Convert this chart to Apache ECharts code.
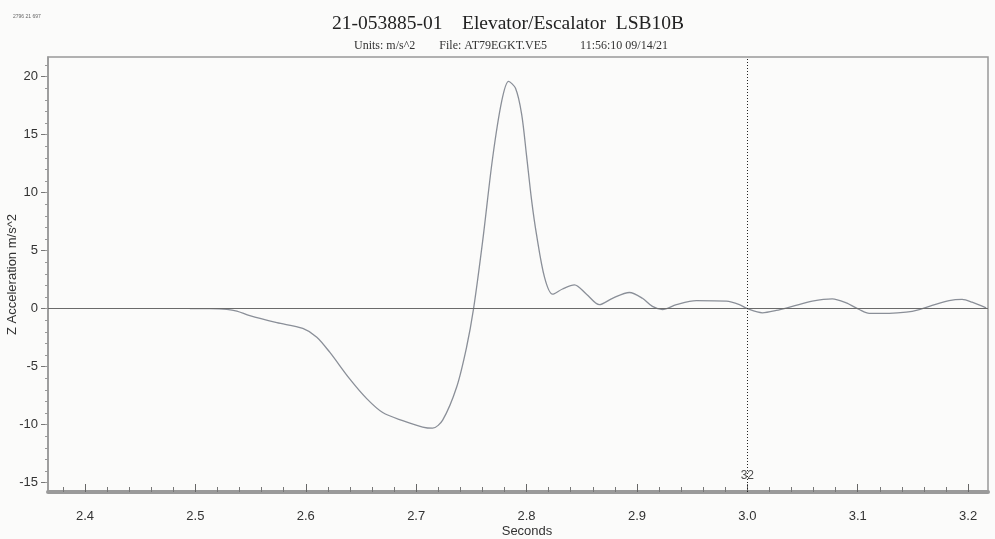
<!DOCTYPE html>
<html>
<head>
<meta charset="utf-8">
<script src="https://cdn.jsdelivr.net/npm/echarts@6/dist/echarts.min.js"></script>
<style>html,body{margin:0;padding:0;background:#fbfbfa;}#c{width:995px;height:539px;}</style>
</head>
<body>
<div id="c"></div>
<script>
// Time (s) and Z acceleration (m/s^2)
const times = [2.495, 2.513, 2.5285, 2.5376, 2.5493, 2.5738, 2.5973, 2.610, 2.6217, 2.6398, 2.6552, 2.6697, 2.6878, 2.7059, 2.7149, 2.724, 2.7367, 2.7457, 2.752, 2.7602, 2.7692, 2.7774, 2.7837, 2.7900, 2.7955, 2.8000, 2.8045, 2.809, 2.8163, 2.8235, 2.8326, 2.8434, 2.8543, 2.866, 2.8778, 2.8932, 2.905, 2.914, 2.9231, 2.9357, 2.9538, 2.981, 2.9928, 3.0, 3.0136, 3.0262, 3.0407, 3.0588, 3.0769, 3.0896, 3.1014, 3.1104, 3.1285, 3.1439, 3.1557, 3.1674, 3.1828, 3.1946, 3.2036, 3.2163];
const accel = [0, 0, -0.05, -0.2, -0.6, -1.2, -1.7, -2.45, -3.75, -6.05, -7.75, -8.95, -9.65, -10.2, -10.3, -9.6, -6.75, -3.3, 0, 5.8, 12.95, 17.85, 19.6, 19.0, 16.8, 13.2, 9.4, 6.4, 2.7, 1.25, 1.7, 2.05, 1.25, 0.35, 0.9, 1.4, 0.9, 0.2, -0.07, 0.35, 0.7, 0.65, 0.35, 0, -0.35, -0.15, 0.2, 0.65, 0.85, 0.5, -0.07, -0.4, -0.4, -0.3, -0.07, 0.28, 0.7, 0.8, 0.56, 0.07];
const xMajorTicks = [2.4, 2.5, 2.6, 2.7, 2.8, 2.9, 3.0, 3.1, 3.2];
const xMinorTicks = [2.38, 2.42, 2.44, 2.46, 2.48, 2.52, 2.54, 2.56, 2.58, 2.62, 2.64, 2.66, 2.68, 2.72, 2.74, 2.76, 2.78, 2.82, 2.84, 2.86, 2.88, 2.92, 2.94, 2.96, 2.98, 3.02, 3.04, 3.06, 3.08, 3.12, 3.14, 3.16, 3.18];
const yMajorTicks = [-15, -10, -5, 0, 5, 10, 15, 20];
const yMinorTicks = [-15, -14, -13, -12, -11, -10, -9, -8, -7, -6, -5, -4, -3, -2, -1, 0, 1, 2, 3, 4, 5, 6, 7, 8, 9, 10, 11, 12, 13, 14, 15, 16, 17, 18, 19, 20, 21];
const cursorX = 3.0;
const cursorLabel = '32';
const xMin = 2.3665, xMax = 3.218, yMin = -15.8, yMax = 21.7;

const chart = echarts.init(document.getElementById('c'));
const lblFont = {fontFamily: 'Liberation Sans, Arial, sans-serif', fontSize: 13, color: '#333'};
chart.setOption({
  backgroundColor: '#fbfbfa',
  animation: false,
  title: [{
    text: '21-053885-01    Elevator/Escalator  LSB10B',
    left: 503, top: 9, textAlign: 'center',
    textStyle: {fontFamily: 'Liberation Serif, Times New Roman, serif', fontSize: 19.5, fontWeight: 'normal', color: '#222'}
  }, {
    text: 'Units: m/s^2        File: AT79EGKT.VE5           11:56:10 09/14/21',
    left: 506, top: 35, textAlign: 'center',
    textStyle: {fontFamily: 'Liberation Serif, Times New Roman, serif', fontSize: 12, fontWeight: 'normal', color: '#333'}
  }, {
    text: '2796 21 697', left: 8, top: 9,
    textStyle: {fontFamily: 'Liberation Sans, sans-serif', fontSize: 5, fontWeight: 'normal', color: '#666'}
  }],
  grid: {left: 48, right: 7, top: 57, bottom: 47, show: true, borderColor: '#999', borderWidth: 1.5, backgroundColor: 'transparent', outerBoundsMode: 'none', containLabel: false},
  xAxis: [{
    type: 'value', min: xMin, max: xMax, position: 'bottom',
    name: 'Seconds', nameLocation: 'middle', nameGap: 33, nameMoveOverlap: false,
    nameTextStyle: Object.assign({}, lblFont, {padding: [0, 0, 0, 18]}),
    axisLine: {show: true, onZero: false, lineStyle: {color: '#9a9a9a', width: 4}},
    axisTick: {show: true, inside: true, length: 8, customValues: xMajorTicks, lineStyle: {color: '#666', width: 1}},
    axisLabel: {show: true, customValues: xMajorTicks, margin: 18, formatter: v => v.toFixed(1), ...lblFont},
    splitLine: {show: false}
  }, {
    type: 'value', min: xMin, max: xMax, position: 'bottom',
    axisLine: {show: false, onZero: false},
    axisTick: {show: true, inside: true, length: 5, customValues: xMinorTicks, lineStyle: {color: '#777', width: 1}},
    axisLabel: {show: false},
    splitLine: {show: false}
  }],
  yAxis: [{
    type: 'value', min: yMin, max: yMax,
    name: 'Z Acceleration m/s^2', nameLocation: 'middle', nameGap: 29, nameRotate: 90, nameMoveOverlap: false,
    nameTextStyle: lblFont,
    axisLine: {show: true, onZero: false, lineStyle: {color: '#999', width: 1.5}},
    axisTick: {show: true, length: 7, customValues: yMajorTicks, lineStyle: {color: '#777'}},
    axisLabel: {show: true, customValues: yMajorTicks, margin: 10, ...lblFont},
    splitLine: {show: false}
  }, {
    type: 'value', min: yMin, max: yMax, position: 'left',
    axisLine: {show: false, onZero: false},
    axisTick: {show: true, length: 3, customValues: yMinorTicks, lineStyle: {color: '#999'}},
    axisLabel: {show: false},
    splitLine: {show: false}
  }],
  series: [{
    type: 'line',
    data: times.map((t, i) => [t, accel[i]]),
    smooth: 0.3, showSymbol: false, symbol: 'none',
    lineStyle: {color: '#8a8f98', width: 1.3},
    markLine: {
      silent: true, symbol: 'none', animation: false,
      label: {show: false},
      data: [
        {yAxis: 0, lineStyle: {color: '#6a6a6a', width: 1.2, type: 'solid'}},
        {xAxis: cursorX, lineStyle: {color: '#222', width: 1, type: [1, 2]}}
      ]
    }
  }, {
    type: 'scatter', symbolSize: 0,
    data: [[cursorX, -14.4]],
    label: {show: true, position: 'inside', formatter: cursorLabel, ...lblFont, fontSize: 12, color: '#222'}
  }]
});
</script>
</body>
</html>
